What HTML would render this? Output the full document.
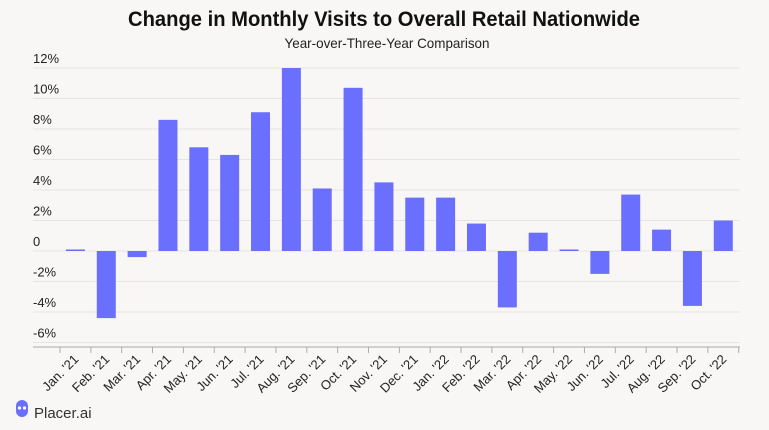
<!DOCTYPE html>
<html><head><meta charset="utf-8"><style>
body{margin:0;background:#f8f7f5;}
svg{display:block;font-family:"Liberation Sans",sans-serif;}
</style></head><body>
<svg id="chart" width="769" height="430" viewBox="0 0 769 430">
<rect width="769" height="430" fill="#f8f7f5"/>
<text x="384" y="26" text-anchor="middle" font-size="21" font-weight="bold" fill="#111" textLength="512" lengthAdjust="spacingAndGlyphs">Change in Monthly Visits to Overall Retail Nationwide</text>
<text x="387" y="48" text-anchor="middle" font-size="14" fill="#222" textLength="205" lengthAdjust="spacingAndGlyphs">Year-over-Three-Year Comparison</text>
<g id="grid"></g><g id="bars"></g><g id="xaxis"></g>
<g>
<path d="M16 406 a6 6 0 0 1 12 0 v5 a6 6 0 0 1 -6 6 a6 6 0 0 1 -6 -6z" fill="#6b6ffe"/>
<circle cx="19.5" cy="408" r="1.6" fill="#fff"/><circle cx="24.5" cy="408" r="1.6" fill="#fff"/>
<text x="34" y="418" font-size="15" fill="#333">Placer.ai</text>
</g>
</svg>
<script>
const categories=["Jan. '21","Feb. '21","Mar. '21","Apr. '21","May. '21","Jun. '21","Jul. '21","Aug. '21","Sep. '21","Oct. '21","Nov. '21","Dec. '21","Jan. '22","Feb. '22","Mar. '22","Apr. '22","May. '22","Jun. '22","Jul. '22","Aug. '22","Sep. '22","Oct. '22"];
const values=[0.1,-4.4,-0.4,8.6,6.8,6.3,9.1,12.0,4.1,10.7,4.5,3.5,3.5,1.8,-3.7,1.2,0.1,-1.5,3.7,1.4,-3.6,2.0];
const yTicks=[12,10,8,6,4,2,0,-2,-4,-6];
const yLabels=["12%","10%","8%","6%","4%","2%","0","-2%","-4%","-6%"];
const NS="http://www.w3.org/2000/svg";
const x0=60,step=(738.7-60)/categories.length;
const y=v=>251-v*15.25;
const xc=i=>x0+step*(i+0.5);
const grid=document.getElementById('grid'),bars=document.getElementById('bars'),xa=document.getElementById('xaxis');
function mk(tag,attrs,parent){const e=document.createElementNS(NS,tag);for(const k in attrs)e.setAttribute(k,attrs[k]);parent.appendChild(e);return e;}
yTicks.forEach((t,i)=>{
 const l=mk('line',{x1:33,x2:740,y1:y(t),y2:y(t),stroke:'#e6e4e1','stroke-width':1},grid);
 
 
 const tx=mk('text',{x:33,y:y(t)-5,'font-size':13,fill:'#222'},grid);
 tx.textContent=yLabels[i];
 
 
});
values.forEach((v,i)=>{
 const top=Math.min(y(v),y(0)),h=Math.abs(y(v)-y(0));
 const r=mk('rect',{x:xc(i)-9.5,y:top,width:19,height:Math.max(h,1.5),fill:'#6b6ffe'},bars);
 
 
});
const ax=mk('line',{x1:33,x2:740,y1:347,y2:347,stroke:'#aaa','stroke-width':1},xa);


for(let i=0;i<=categories.length;i++){
 const tk=mk('line',{x1:x0+step*i,x2:x0+step*i,y1:347,y2:353,stroke:'#aaa'},xa);
 
 
}
categories.forEach((c,i)=>{
 const tx=mk('text',{x:xc(i)+4,y:360,'font-size':13,fill:'#222','text-anchor':'end',transform:`rotate(-45 ${xc(i)+4} 360)`},xa);
 tx.textContent=c;
 
 
});
</script>
</body></html>
